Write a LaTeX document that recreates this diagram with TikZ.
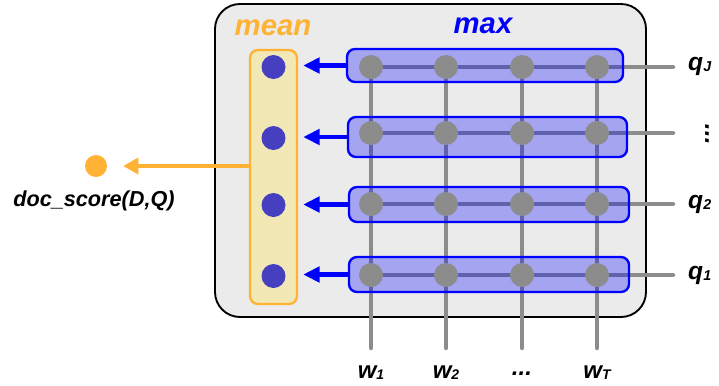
\documentclass[tikz,border=0pt]{standalone}
\usepackage{fontspec}
\setmainfont{Liberation Sans}
\usetikzlibrary{arrows.meta}
\definecolor{panelgray}{RGB}{235,235,235}
\definecolor{meanfill}{RGB}{242,232,182}
\definecolor{meanorange}{RGB}{255,178,51}
\definecolor{dotblue}{RGB}{70,64,192}
\definecolor{gridgray}{RGB}{140,140,140}
\newcommand{\idx}[1]{\raisebox{-0.1ex}{\scalebox{0.58}{#1}}}

\begin{document}
\begin{tikzpicture}[
    x=0.03cm, y=-0.03cm,
    panel/.style={draw, line width=1.6pt, fill=panelgray, rounded corners=0.75cm,
                  minimum width=12.93cm, minimum height=9.39cm},
    meancol/.style={draw=meanorange, line width=2pt, fill=meanfill, rounded corners=0.24cm,
                    minimum width=1.41cm, minimum height=7.62cm},
    rowbox/.style={draw=blue, line width=2pt, fill=blue, fill opacity=0.3,
                   rounded corners=0.24cm, minimum height=1.05cm, minimum width=8.4cm},
    gdot/.style={circle, fill=gridgray, minimum size=0.72cm, inner sep=0pt},
    mdot/.style={circle, fill=dotblue, minimum size=0.72cm, inner sep=0pt},
    odot/.style={circle, fill=meanorange, minimum size=0.66cm, inner sep=0pt},
    gridline/.style={gridgray, line width=3.8pt, line cap=round},
    blarrow/.style={-{Triangle[length=14pt,width=13pt]}, blue, line width=3.6pt},
    oarrow/.style={-{Triangle[length=13pt,width=14pt]}, meanorange, line width=2.6pt},
    head/.style={font=\bfseries\itshape\fontsize{25}{30}\selectfont, inner sep=0pt, anchor=base},
    lbl/.style={font=\bfseries\itshape\fontsize{21}{25}\selectfont, inner sep=0pt},
    wlbl/.style={lbl, anchor=base, font=\bfseries\itshape\fontsize{20.5}{24}\selectfont}
  ]
    \useasboundingbox (0,0) rectangle (719,385);

    \node[panel] (panel) at (430.5,160.5) {};
    \node[meancol] (meanbox) at (273.5,177) {};
    \node[head, text=meanorange] (meantxt) at (273,35) {mean};
    \node[head, text=blue] (maxtxt) at (483,33) {max};

    % grid of query and word lines
    \foreach \r/\y in {1/67,2/133,3/204,4/275} {
      \coordinate (h\r) at (371,\y);
      \coordinate (e\r) at (673,\y);
      \draw[gridline] (h\r) -- (e\r);
    }
    \foreach \c/\x in {1/371,2/446,3/522,4/597} {
      \coordinate (t\c) at (\x,67);
      \coordinate (b\c) at (\x,348);
      \draw[gridline] (t\c) -- (b\c);
    }

    \node[rowbox, minimum width=8.28cm, minimum height=0.99cm] (rb1) at (485,65.5) {};
    \node[rowbox, minimum width=8.37cm, minimum height=1.2cm] (rb2) at (487.5,137) {};
    \node[rowbox] (rb3) at (489,204.5) {};
    \node[rowbox] (rb4) at (489,274.5) {};

    \foreach \r/\y in {1/67,2/133,3/204,4/275}
      \foreach \c/\x in {1/371,2/446,3/522,4/597}
        \node[gdot] (g\r-\c) at (\x,\y) {};

    \node[mdot] (m1) at (273.5,67) {};
    \node[mdot] (m2) at (273.5,138) {};
    \node[mdot] (m3) at (273.5,205) {};
    \node[mdot] (m4) at (273.5,276) {};

    \foreach \r in {1,...,4}
      \draw[blarrow, shorten >=0.15cm] (rb\r.west) -- (rb\r.west -| meanbox.east);

    \node[odot] (score) at (96,166) {};
    \draw[oarrow, shorten >=0.48cm] (meanbox.west |- score) -- (score);
    \node[lbl, font=\bfseries\itshape\fontsize{18.5}{22}\selectfont] (scoretxt) at (94,201) {doc\_score(D,Q)};

    % query labels
    \node[lbl, anchor=base west] (qJ) at (688,70) {q\idx{J}};
    \node[lbl, rotate=90] (qdots) at (707,133) {...};
    \node[lbl, anchor=base west] (q2) at (688,208) {q\idx{2}};
    \node[lbl, anchor=base west] (q1) at (688,279) {q\idx{1}};

    % word labels
    \node[wlbl] (w1) at (371,378) {w\idx{1}};
    \node[wlbl] (w2) at (446,378) {w\idx{2}};
    \node[wlbl] (wdots) at (522,375) {...};
    \node[wlbl] (wT) at (597,378) {w\idx{T}};
  \end{tikzpicture}
\end{document}
